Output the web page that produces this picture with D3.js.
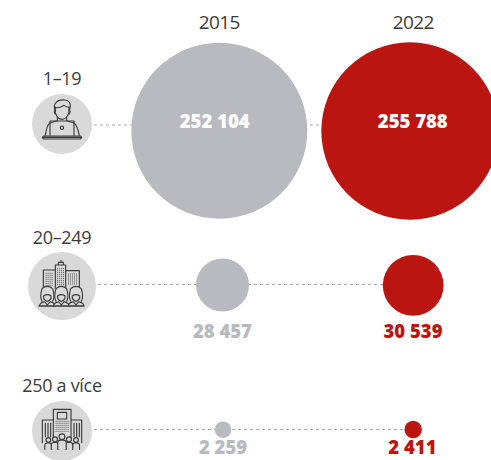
<!DOCTYPE html>
<html><head><meta charset="utf-8">
<script src="https://cdn.jsdelivr.net/npm/d3@7"></script>
<style>html,body{margin:0;padding:0;background:#fff;overflow:hidden}svg{display:block}</style>
</head><body><svg id="c" width="491" height="460"></svg>
<script>
const years = ["2015","2022"];
const sizeClasses = ["1–19","20–249","250 a více"];
const values2015 = [252104,28457,2259];
const values2022 = [255788,30539,2411];
const seriesColors = ["#b9babf","#bb1512"];

const svg = d3.select("#c");
const x = d3.scalePoint().domain(years).range([219.3,413.2]);
const y = d3.scaleOrdinal().domain(sizeClasses).range([125,284.5,429.5]);
// the reference's bubbles are not strictly proportional: piecewise scale through the read sizes
const r = d3.scaleLinear().domain([0,2259,2411,28457,30539,252104,255788]).range([0,8.3,8.7,26.5,30.4,88,88.7]);
const fmt = v => d3.format(",")(v).replace(/,/g," ");
// small hand-placement nudges seen in the reference, per [year][row]
const bubbleDx=[[0,3.2,3.7],[-3.2,0,0]], bubbleDy=[[5.8,0.5,0.2],[6,0.8,0]];
const valueX=[[214.7,222.4,223],[412.8,413,412.4]], valueY=[[128,338.2,454.4],[128,338.2,454.4]];
const iconX=62, iconY=[124,286,431], iconR=[30,34,30], labelY=[85,244,392];
const GREY="#3a3a3a", DISC="#d9d9d9";
// header
svg.selectAll(".yr").data(years).join("text").attr("class","yr")
  .attr("x",d=>x(d)).attr("y",29.3).attr("text-anchor","middle")
  .attr("font-family","Open Sans").attr("font-size",19).attr("letter-spacing",-0.6).attr("fill","#3c3c3c").text(d=>d);
// connector lines
svg.selectAll(".ln").data(sizeClasses).join("line").attr("class","ln")
  .attr("x1",(d,i)=>iconX+iconR[i]+2).attr("x2",x("2022")).attr("y1",d=>y(d)).attr("y2",d=>y(d))
  .attr("stroke","#a9a9a9").attr("stroke-width",1).attr("stroke-dasharray","3 3");
// bubbles and values
years.forEach((yr,j)=>{
  const vals = j?values2022:values2015;
  svg.selectAll(".b"+yr).data(sizeClasses).join("circle").attr("class","b"+yr)
    .attr("cx",(d,i)=>x(yr)+bubbleDx[j][i]).attr("cy",(d,i)=>y(d)+bubbleDy[j][i]).attr("r",(d,i)=>r(vals[i])).attr("fill",seriesColors[j]);
  svg.selectAll(".v"+yr).data(sizeClasses).join("text").attr("class","v"+yr)
    .attr("x",(d,i)=>valueX[j][i]).attr("y",(d,i)=>valueY[j][i])
    .attr("text-anchor","middle").attr("font-family","Open Sans").attr("font-weight",800).attr("font-size",18.5)
    .attr("fill",(d,i)=>i==0?"#fff":seriesColors[j]).text((d,i)=>fmt(vals[i]));
});
// row labels
svg.selectAll(".lab").data(sizeClasses).join("text").attr("class","lab")
  .attr("x",iconX).attr("y",(d,i)=>labelY[i]).attr("text-anchor","middle")
  .attr("font-family","Open Sans").attr("font-size",18).attr("letter-spacing",-0.3).attr("fill","#3c3c3c").text(d=>d);
// icon discs
svg.selectAll(".disc").data(sizeClasses).join("circle").attr("class","disc")
  .attr("cx",iconX).attr("cy",(d,i)=>iconY[i]).attr("r",(d,i)=>iconR[i]).attr("fill",DISC);

function icon(i,ox,oy){
  return svg.append("g").attr("transform",`translate(${iconX},${iconY[i]}) scale(0.3333) translate(${-ox},${-oy})`)
    .attr("fill","none").attr("stroke",GREY).attr("stroke-width",3.4).attr("stroke-linejoin","round").attr("stroke-linecap","round");
}
// person at laptop
{
  const g=icon(0,186,192);
  g.append("path").attr("d","M165 150 Q160 135 168 128 Q175 118 195 120 Q212 122 211 140 L208 152");
  g.append("path").attr("d","M165 142 Q178 146 192 136 Q200 142 208 142");
  g.append("path").attr("d","M166 142 L166 158 Q172 178 186 178 Q200 178 207 158 L207 142");
  g.append("path").attr("d","M166 150 Q160 152 165 162 M207 150 Q213 152 208 162");
  g.append("path").attr("d","M172 172 L172 182 L148 190 Q140 198 136 226 M200 172 L200 182 L224 190 Q232 198 238 226");
  g.append("path").attr("d","M150 226 L150 183 L222 183 L222 226");
  g.append("circle").attr("cx",186).attr("cy",203).attr("r",5);
  g.append("path").attr("d","M130 228 L242 228 L245 232 L242 237 L130 237 L127 232 Z M127 232 L245 232");
}
function windows(g,x0,x1,y0,y1,step){
  const ys=d3.range(y0,y1,step);
  g.append("path").attr("stroke-width",3).attr("stroke-dasharray","2.5 "+(step-2.5)).attr("stroke-linecap","butt")
   .attr("d",ys.map(v=>`M${x0} ${v} L${x1} ${v}`).join(""));
}
function person(g,px,cy,w,top,bottom){
  g.append("path").attr("d",`M${px-w*0.62} ${bottom} L${px-w*0.62} ${cy+26} Q${px-w*0.6} ${cy+17} ${px-w*0.22} ${cy+13} L${px} ${cy+23} L${px+w*0.22} ${cy+13} Q${px+w*0.6} ${cy+17} ${px+w*0.62} ${cy+26} L${px+w*0.62} ${bottom} Z`).attr("fill",DISC);
  g.append("path").attr("d",`M${px-w*0.42} ${cy+12} Q${px-w*0.62} ${cy-2} ${px-w*0.42} ${top+8} Q${px} ${top-6} ${px+w*0.42} ${top+8} Q${px+w*0.62} ${cy-2} ${px+w*0.42} ${cy+12}`).attr("fill",DISC);
  g.append("path").attr("d",`M${px-w*0.3} ${cy-4} Q${px} ${cy-12} ${px+w*0.3} ${cy-4} L${px+w*0.28} ${cy+4} Q${px} ${cy+20} ${px-w*0.28} ${cy+4} Z`);
}
// offices and three people
{
  const g=icon(1,186,198);
  g.append("path").attr("d","M130 205 L130 150 L166 150 L166 205 M197 205 L197 152 L238 152 L238 205 M166 205 L166 135 L197 135 L197 205 M175 135 L175 127 L190 127 L190 135 M183 127 L183 121");
  windows(g,137,160,160,198,6);
  windows(g,171,192,146,198,6);
  windows(g,204,232,162,198,6);
  person(g,142,232,38,198,258);
  person(g,228,232,38,198,258);
  person(g,184,232,38,198,258);
  g.append("path").attr("d","M116 258 L252 258");
}
// tall block and five people
{
  const g=icon(2,186,213);
  g.append("path").attr("d","M127 248 L127 180 L160 180 L160 148 L213 148 L213 180 L245 180 L245 248 M160 180 L160 235 M213 180 L213 235");
  g.append("rect").attr("x",172).attr("y",157).attr("width",28).attr("height",20);
  windows(g,167,207,184,220,6);
  g.append("path").attr("d","M136 190 L136 230 M144 190 L144 230 M152 190 L152 230 M222 190 L222 230 M230 190 L230 230 M238 190 L238 230");
  [[145,240,7],[228,240,7],[165,238,7.5],[207,238,7.5],[186,230,8.5]].forEach(([px,py,pr])=>{
    g.append("circle").attr("cx",px).attr("cy",py).attr("r",pr).attr("fill",DISC);
    g.append("path").attr("d",`M${px-pr*1.5} 268 L${px-pr*1.5} ${py+pr+9} Q${px-pr*1.5} ${py+pr+2} ${px-pr*.5} ${py+pr+2} L${px+pr*.5} ${py+pr+2} Q${px+pr*1.5} ${py+pr+2} ${px+pr*1.5} ${py+pr+9} L${px+pr*1.5} 268`).attr("fill",DISC);
  });
}
</script></body></html>
